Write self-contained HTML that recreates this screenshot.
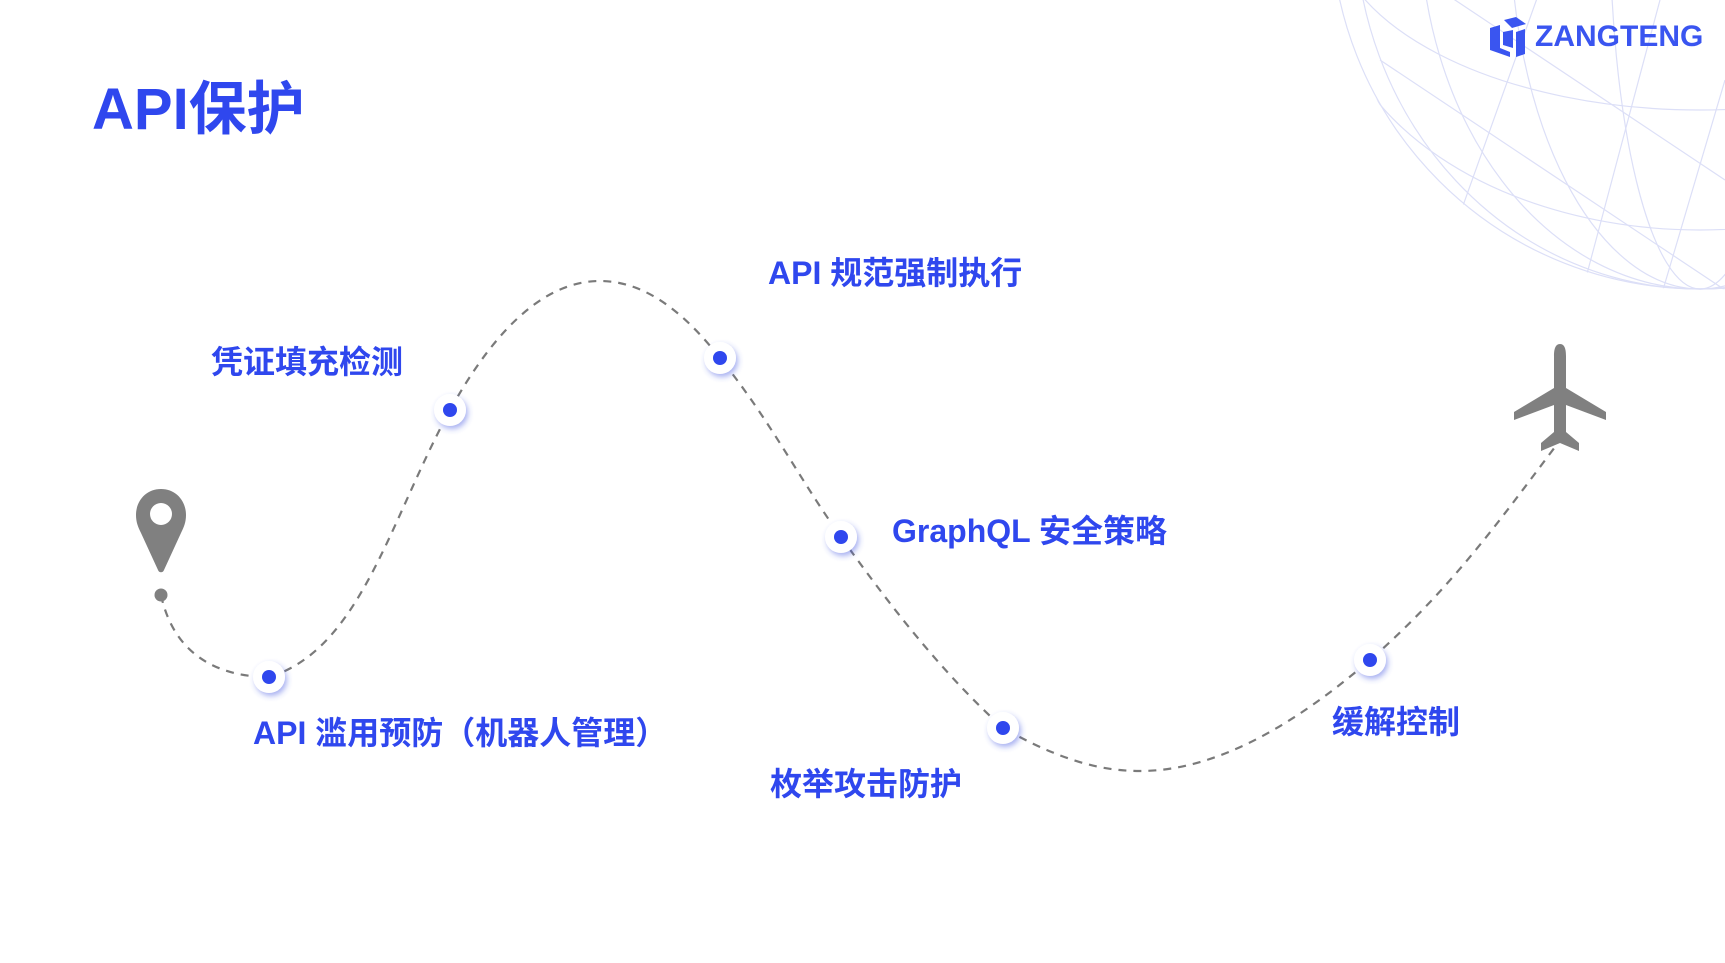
<!DOCTYPE html>
<html><head><meta charset="utf-8"><style>
html,body{margin:0;padding:0;background:#fff;}
#c{position:relative;width:1725px;height:963px;overflow:hidden;font-family:"Liberation Sans","Noto Sans CJK SC",sans-serif;}
.t{position:absolute;color:#2f47ee;font-weight:bold;font-size:32px;line-height:1;white-space:nowrap;transform:translateY(-50%);}
</style></head><body><div id="c">
<svg width="1725" height="963" style="position:absolute;left:0;top:0">
<defs><filter id="sh" x="-50%" y="-50%" width="200%" height="200%"><feDropShadow dx="2" dy="3" stdDeviation="3" flood-color="#3a4de0" flood-opacity="0.45"/></filter>
<clipPath id="gc"><circle cx="1700" cy="-80" r="370"/></clipPath></defs>
<g clip-path="url(#gc)" stroke="#dcdff7" stroke-width="1.2" fill="none">
<circle cx="1700" cy="-80" r="369"/>
<ellipse cx="1700" cy="-80" rx="90" ry="369"/><ellipse cx="1700" cy="-80" rx="190" ry="369"/><ellipse cx="1700" cy="-80" rx="280" ry="369"/><ellipse cx="1700" cy="-80" rx="345" ry="369"/>
<ellipse cx="1700" cy="-140" rx="369" ry="120"/><ellipse cx="1700" cy="-80" rx="369" ry="190"/><ellipse cx="1700" cy="-20" rx="369" ry="250"/><ellipse cx="1700" cy="40" rx="369" ry="260"/>
<path d="M1380 60 L1725 290 M1440 -10 L1725 180 M1360 160 L1580 300 M1540 -10 L1440 270 M1660 0 L1580 300 M1725 80 L1660 300"/>
</g>
<path d="M161 595 C175 660,225 677,269 677 C360 650,390 520,450 410 C500 320,550 281,600 281 C650 281,690 320,720 358 C770 420,800 480,841 537 C900 620,950 680,1003 728 C1060 760,1100 771,1140 771 C1220 771,1300 720,1370 660 C1450 590,1500 520,1555 447" fill="none" stroke="#7a7a7a" stroke-width="2.2" stroke-dasharray="8,7"/>
<g fill="#fff" filter="url(#sh)">
<circle cx="269" cy="677" r="16"/><circle cx="450" cy="410" r="16"/><circle cx="720" cy="358" r="16"/><circle cx="841" cy="537" r="16"/><circle cx="1003" cy="728" r="16"/><circle cx="1370" cy="660" r="16"/>
</g>
<g fill="#2f47ee">
<circle cx="269" cy="677" r="7"/><circle cx="450" cy="410" r="7"/><circle cx="720" cy="358" r="7"/><circle cx="841" cy="537" r="7"/><circle cx="1003" cy="728" r="7"/><circle cx="1370" cy="660" r="7"/>
</g>
<circle cx="161" cy="595" r="6.5" fill="#808080"/>
<path d="M161 489 C146 489,136 501,136 515 C136 522,138 527,141 533 L158 570 C159 573,163 573,164 570 L181 533 C184 527,186 522,186 515 C186 501,176 489,161 489 Z" fill="#808080"/>
<circle cx="161" cy="514" r="11" fill="#fff"/>
<path d="M1560 344 C1555 344,1554 350,1554 356 L1554 388 L1514 412 L1514 420 L1554 405 L1554 432 L1541 443 L1541 451 L1560 443 L1579 451 L1579 443 L1566 432 L1566 405 L1606 420 L1606 412 L1566 388 L1566 356 C1566 350,1565 344,1560 344 Z" fill="#808080"/>
<g fill="#3a55f0">
<path d="M1504 20 L1516 17 L1526 24 L1512 28 Z"/><path d="M1490 28 L1500 25 L1500 48 L1510 52 L1510 57 L1490 50 Z"/><path d="M1503 32 L1513 30 L1513 48 L1503 45 Z"/><path d="M1516 32 L1525 29 L1525 54 L1516 57 Z"/>
</g>
</svg>
<div class="t" style="left:92px;top:110px;font-size:58px;">API保护</div>
<div style="position:absolute;left:1535px;top:22px;color:#3a55f0;font-weight:bold;font-size:30px;font-family:'Liberation Sans',sans-serif;line-height:1">ZANGTENG</div>
<div class="t" style="left:211px;top:362px;">凭证填充检测</div>
<div class="t" style="left:768px;top:273px;">API 规范强制执行</div>
<div class="t" style="left:892px;top:531px;">GraphQL 安全策略</div>
<div class="t" style="left:253px;top:733px;">API 滥用预防（机器人管理）</div>
<div class="t" style="left:770px;top:784px;">枚举攻击防护</div>
<div class="t" style="left:1332px;top:722px;">缓解控制</div>
</div></body></html>
